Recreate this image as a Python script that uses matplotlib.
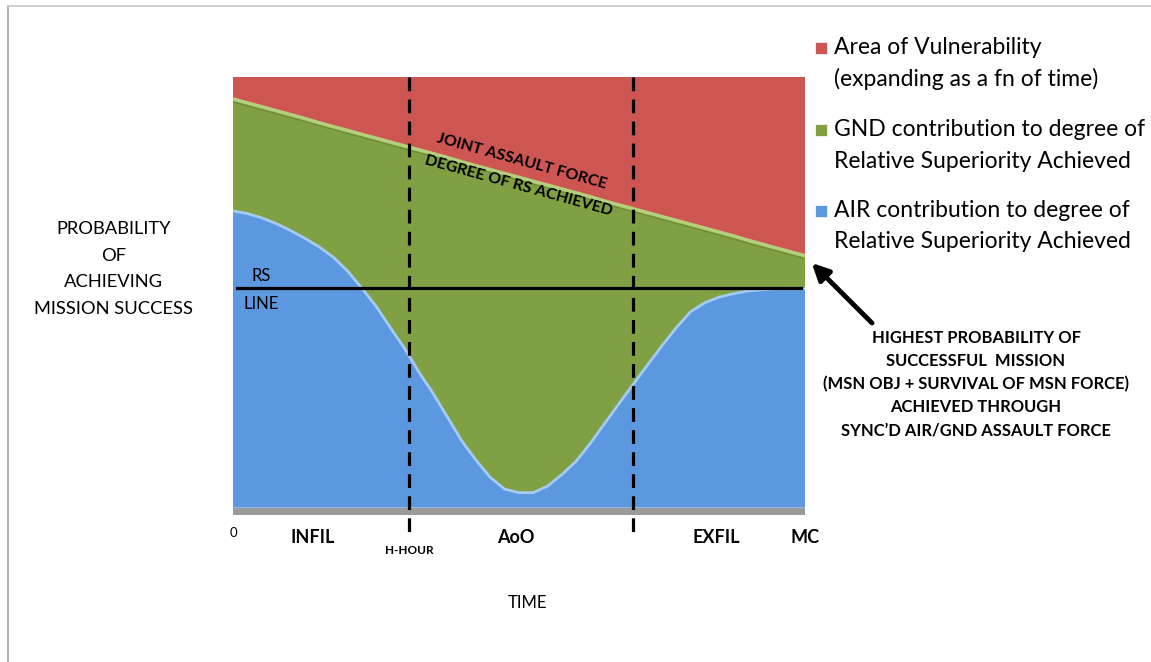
import matplotlib
matplotlib.use("Agg")
from matplotlib import pyplot as plt
from matplotlib.patches import Rectangle
from matplotlib.lines import Line2D

plt.rcParams['font.family'] = ['Lato', 'DejaVu Sans']

# time axis (percent of mission timeline) and stacked contributions
time = [0, 2.5, 5, 7.5, 10, 12.5, 15, 17.5, 20, 22.5, 25, 27.5, 30, 32.5, 35, 37.5, 40,
        42.5, 45, 47.5, 50, 52.5, 55, 57.5, 60, 62.5, 65, 67.5, 70, 72.5, 75, 77.5, 80,
        82.5, 85, 87.5, 90, 92.5, 95, 97.5, 100]
air = [68.9, 68.3, 67.3, 66.0, 64.4, 62.6, 60.6, 58.2, 55.0, 51.0, 46.8, 41.8, 37.0,
       31.5, 26.5, 21.0, 15.5, 11.0, 7.0, 4.3, 3.5, 3.5, 5.0, 7.7, 10.8, 15.0, 19.6,
       24.2, 28.7, 33.2, 37.6, 41.8, 45.5, 47.6, 48.9, 49.7, 50.3, 50.6, 50.8, 50.8, 50.8]
gnd = [26.0, 25.7, 25.8, 26.2, 26.9, 27.8, 28.8, 30.3, 32.6, 35.7, 39.0, 43.1, 47.0,
       51.6, 55.7, 60.3, 64.8, 68.4, 71.5, 73.3, 73.2, 72.3, 69.9, 66.3, 62.3, 57.2, 51.6,
       46.1, 40.7, 35.3, 30.0, 24.9, 20.3, 17.3, 15.1, 13.4, 11.8, 10.6, 9.5, 8.6, 7.7]
vuln = [5.1, 6.0, 6.9, 7.8, 8.7, 9.6, 10.6, 11.5, 12.4, 13.3, 14.2, 15.1, 16.0, 16.9,
        17.8, 18.7, 19.7, 20.6, 21.5, 22.4, 23.3, 24.2, 25.1, 26.0, 26.9, 27.8, 28.8,
        29.7, 30.6, 31.5, 32.4, 33.3, 34.2, 35.1, 36.0, 36.9, 37.9, 38.8, 39.7, 40.6, 41.5]

series_labels = [["Area of Vulnerability", "(expanding as a fn of time)"],
                 ["GND contribution to degree of", "Relative Superiority Achieved"],
                 ["AIR contribution to degree of", "Relative Superiority Achieved"]]
rs_line = 51.0
phase_marks = [30.8, 69.9]
phase_labels = [(14, "INFIL"), (49.5, "AoO"), (84.5, "EXFIL"), (100, "MC")]

red = "#cd5552"
green = "#80a043"
blue = "#5b98e0"

fig = plt.figure(figsize=(11.51, 6.62), dpi=100)
ax = fig.add_axes([233/1151, 147/662, 572/1151, 438/662])

ax.stackplot(time, air, gnd, vuln, colors=[blue, green, red], linewidth=0)
# bevel highlights along the area edges
top_gnd = [a + g for a, g in zip(air, gnd)]
ax.plot(time, air, color="#a3cbf3", lw=2.0, solid_capstyle="butt")
ax.plot(time, top_gnd, color="#b5cf7c", lw=2.5, solid_capstyle="butt")
ax.plot(time, [t - 0.7 for t in top_gnd], color="#6d8a36", lw=0.8)

# floor
ax.axhspan(-1.7, 0, color="#9a9a9a", lw=0)
ax.set_xlim(0, 100)
ax.set_ylim(-1.7, 100)
ax.axis("off")

# RS line
ax.plot([0.7, 99.3], [rs_line, rs_line], color="black", lw=2.3)
ax.text(5, rs_line + 1.0, "RS", fontsize=12, ha="center", va="bottom")
ax.text(5, rs_line - 1.8, "LINE", fontsize=12, ha="center", va="top")

# phase boundaries (dashed lines run past the floor)
for xm in phase_marks:
    ax.add_line(Line2D([xm, xm], [100, -6.5], color="black", lw=2.3,
                       dashes=(4.3, 2.6), clip_on=False))

ax.text(phase_marks[0], -8.7, "H-HOUR", fontsize=8.5, fontweight="bold",
        ha="center", va="top")
ax.text(0, -4.5, "0", fontsize=9.5, ha="center", va="top")
for xp, lab in phase_labels:
    ax.text(xp, -5.0, lab, fontsize=13, fontweight="bold", ha="center", va="top")

ax.text(51.5, -20.3, "TIME", fontsize=12, ha="center", va="top")

# label along the top of the joint force curve
ax.text(50.5, 80.5, "JOINT ASSAULT FORCE", fontsize=11.5, fontweight="bold",
        rotation=-15.4, rotation_mode="anchor", ha="center", va="center")
ax.text(50.0, 74.8, "DEGREE OF RS ACHIEVED", fontsize=11.5, fontweight="bold",
        rotation=-15.4, rotation_mode="anchor", ha="center", va="center")

# y description
for i, line in enumerate(["PROBABILITY", "OF", "ACHIEVING", "MISSION SUCCESS"]):
    fig.text(114/1151, 1 - (229 + 26.7 * i)/662, line, fontsize=13.2,
             ha="center", va="center")

# legend
legend_rows = [48, 130, 211]
for y0, lines, c in zip(legend_rows, series_labels, [red, green, blue]):
    fig.patches.append(Rectangle((815/1151, 1 - (y0 + 6)/662), 12/1151, 12/662,
                                 transform=fig.transFigure, facecolor=c,
                                 edgecolor="#ffffff", lw=0.5))
    for j, line in enumerate(lines):
        fig.text(834/1151, 1 - (y0 + 31 * j)/662, line, fontsize=16.5,
                 ha="left", va="center")

# annotation for the end of the timeline
ax.annotate("", xy=(101.2, 56.8), xycoords="data",
            xytext=(872/1151, 1 - 323/662), textcoords="figure fraction",
            annotation_clip=False,
            arrowprops=dict(arrowstyle="-|>,head_length=1.0,head_width=0.5",
                            color="black", lw=3.5, shrinkA=0, shrinkB=0))
note = ["HIGHEST PROBABILITY OF", "SUCCESSFUL  MISSION",
        "(MSN OBJ + SURVIVAL OF MSN FORCE)", "ACHIEVED THROUGH",
        "SYNC\u2019D AIR/GND ASSAULT FORCE"]
for i, line in enumerate(note):
    fig.text(976/1151, 1 - (338 + 23 * i)/662, line, fontsize=11.9, fontweight="bold",
             ha="center", va="center")

# frame lines around the canvas
fig.add_artist(Line2D([8/1151, 8/1151], [0, 1 - 6/662], color="#a0a0a0", lw=1.2,
                      transform=fig.transFigure))
fig.add_artist(Line2D([8/1151, 1], [1 - 6/662, 1 - 6/662], color="#c8c8c8", lw=1.2,
                      transform=fig.transFigure))

fig.savefig("out.png", dpi=100)
